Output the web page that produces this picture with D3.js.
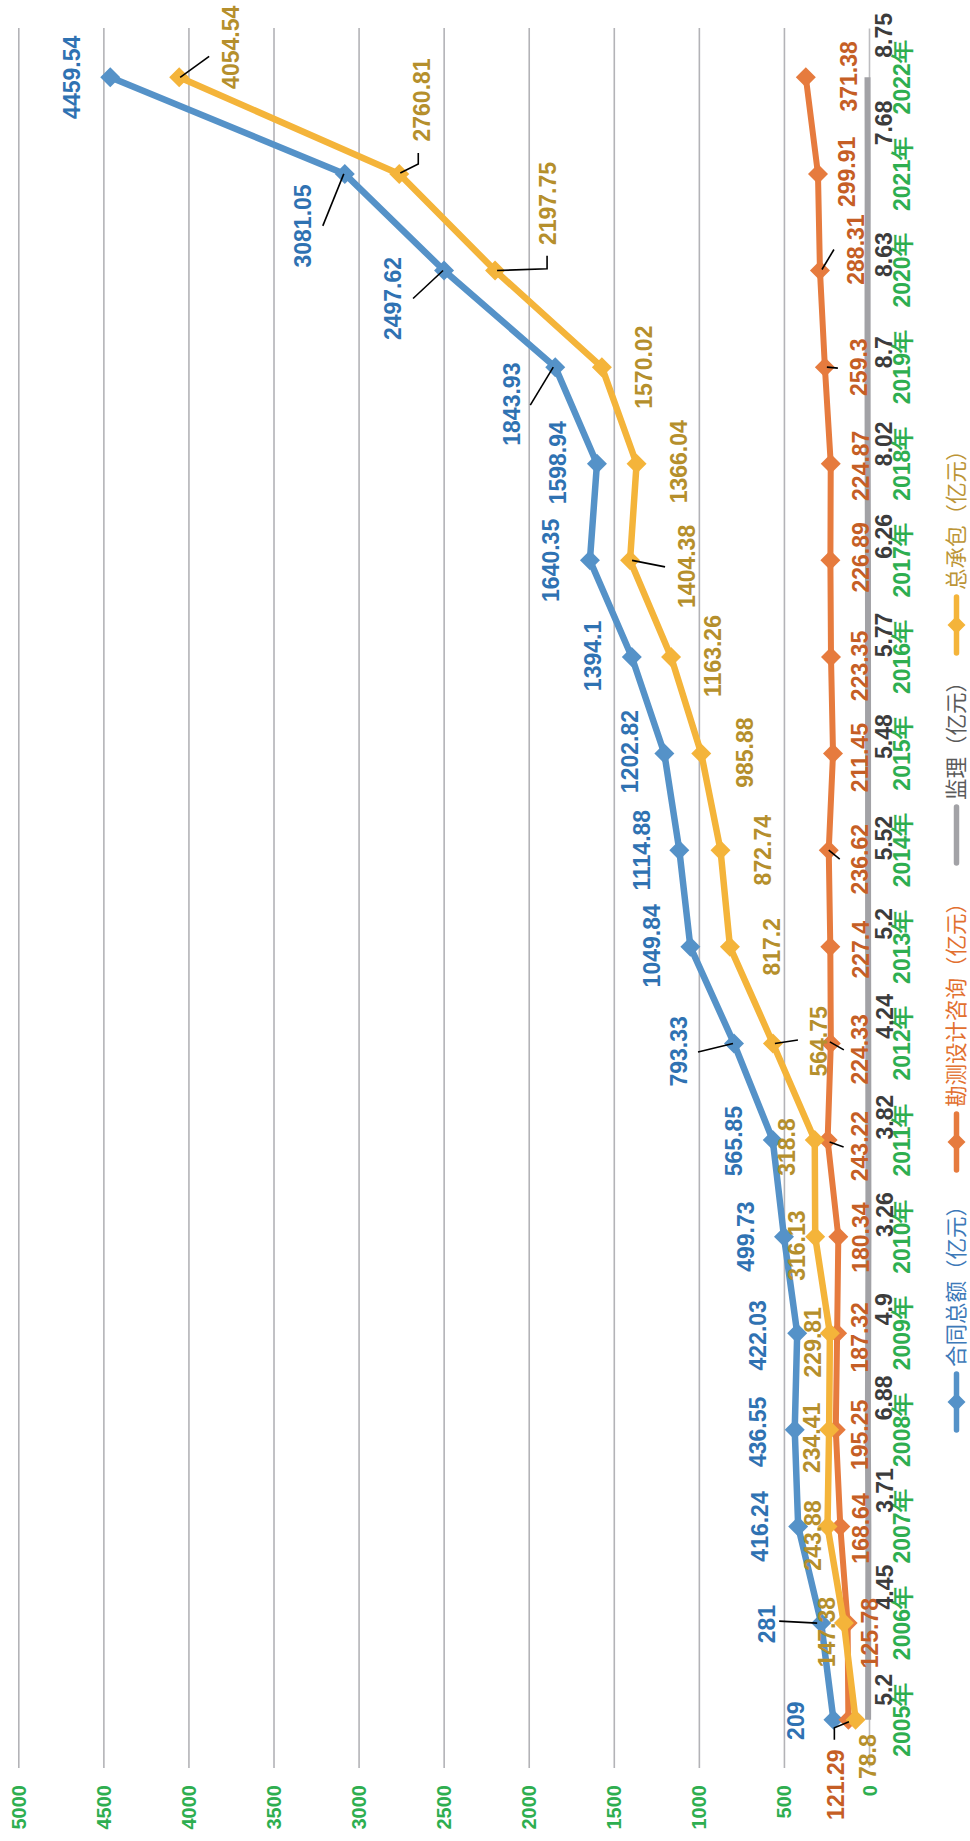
<!DOCTYPE html>
<html>
<head>
<meta charset="utf-8">
<script src="https://cdn.jsdelivr.net/npm/d3@7"></script>
<style>
  html, body { margin: 0; padding: 0; background: #fff; }
  svg { display: block; }
</style>
</head>
<body>
<svg id="chart" width="970" height="1841"></svg>
<script>
// ---------------- DATA ----------------
const years = ["2005年","2006年","2007年","2008年","2009年","2010年","2011年","2012年","2013年","2014年","2015年","2016年","2017年","2018年","2019年","2020年","2021年","2022年"];
const totalContract = [209, 281, 416.24, 436.55, 422.03, 499.73, 565.85, 793.33, 1049.84, 1114.88, 1202.82, 1394.1, 1640.35, 1598.94, 1843.93, 2497.62, 3081.05, 4459.54];
const surveyDesign = [121.29, 125.78, 168.64, 195.25, 187.32, 180.34, 243.22, 224.33, 227.4, 236.62, 211.45, 223.35, 226.89, 224.87, 259.3, 288.31, 299.91, 371.38];
const supervision = [5.2, 4.45, 3.71, 6.88, 4.9, 3.26, 3.82, 4.24, 5.2, 5.52, 5.48, 5.77, 6.26, 8.02, 8.7, 8.63, 7.68, 8.75];
const generalContract = [78.8, 147.38, 243.88, 234.41, 229.81, 316.13, 318.8, 564.75, 817.2, 872.74, 985.88, 1163.26, 1404.38, 1366.04, 1570.02, 2197.75, 2760.81, 4054.54];
const valueTicks = [0, 500, 1000, 1500, 2000, 2500, 3000, 3500, 4000, 4500, 5000];
const seriesNames = ["合同总额（亿元）", "勘测设计咨询（亿元）", "监理（亿元）", "总承包（亿元）"];

// ---------------- LAYOUT (label offsets, in unrotated chart frame) ----------------
const offBlue = [[-1,-38],[-1,-54],[0,-38],[-2,-37],[-2,-39],[0,-38],[-1,-39],[-8,-55],[1,-39],[0,-38],[2,-35],[1,-39],[0,-39],[1,-39],[-37,-44],[-28,-51],[-52,-42],[0,-39]];
const offOrange = [[-65,-13],[-10,22],[-2,20],[-5,24],[-4,23],[-1,22],[-6,32],[-6,29],[-3,30],[-9,31],[-4,27],[-9,29],[3,30],[-2,30],[0,34],[21,36],[2,29],[1,43]];
const offGray = [[30,16],[36,16],[36,16],[32,16],[24,16],[22,16],[23,16],[27,16],[23,16],[12,16],[17,16],[22,16],[24,16],[20,16],[15,16],[16,16],[51,16],[42,16]];
const offYellow = [[-37,12],[-9,-17],[-9,-15],[-8,-17],[-9,-17],[-9,-18],[-7,-28],[2,46],[0,42],[0,42],[1,43],[1,42],[-6,57],[2,42],[0,42],[67,53],[74,22],[30,52]];
// leader lines: [seriesIndex, yearIndex, [[dx,dy],...]]
const leaders = [
  [0,1,[[0,-4],[2,-42]]],
  [0,7,[[0,-1],[-8.5,-36]]],
  [0,14,[[0,-2],[-38,-25]]],
  [0,15,[[0,-1],[-28,-31]]],
  [0,16,[[0,-1],[-52,-22]]],
  [3,7,[[0,2],[3.5,25]]],
  [3,12,[[0,2],[-6.5,35]]],
  [3,15,[[0,2],[1.7,52],[14.7,52]]],
  [3,16,[[1,1],[10,19],[21,19]]],
  [3,17,[[0,1],[21,30]]],
  [1,0,[[-2,0.6],[-8,-14],[-20,-14]]],
  [1,6,[[-2,2],[-7,16]]],
  [1,7,[[1.5,-1],[-6.5,13]]],
  [1,9,[[0,0],[-9,11]]],
  [1,14,[[0,2],[-1,13]]],
  [1,15,[[1,2],[21,14]]]
];

// ---------------- CHART ----------------
const W = 1841, H = 970; // unrotated frame
const svg = d3.select("#chart");
const g = svg.append("g").attr("transform", `translate(0,${W}) rotate(-90)`);

const x = d3.scaleBand().domain(years).range([73, 1812]);
const y = d3.scaleLinear().domain([0, 5000]).range([869, 18.3]);
const cx = d => x(d) + x.bandwidth() / 2;

const colors = ["#5592C8", "#E67B3E", "#A2A2A6", "#F4B43A"];
const labelColors = ["#2F72B2", "#C55E25", "#3C3C3C", "#B58F2C"];
const green = "#2EAE50";
const labelFont = "'Liberation Sans', Arial, sans-serif";

// gridlines
g.append("g")
  .attr("transform", `translate(73,0)`)
  .call(d3.axisLeft(y).tickValues(valueTicks.filter(v => v > 0)).tickSize(-(1812 - 73)).tickFormat(""))
  .call(s => s.select(".domain").remove())
  .call(s => s.selectAll("line").attr("stroke", "#B3B3B7").attr("stroke-width", 1.6).attr("x2", 1812 - 72));

// value axis labels
g.append("g")
  .attr("transform", `translate(73,0)`)
  .call(d3.axisLeft(y).tickValues(valueTicks).tickSize(0).tickPadding(17).tickFormat(d3.format("d")))
  .call(s => s.select(".domain").remove())
  .call(s => s.selectAll("text")
    .attr("fill", green).attr("font-size", 20).attr("font-weight", "bold")
    .attr("font-family", labelFont).attr("dy", "0.35em"));

// category axis
g.append("g")
  .attr("transform", `translate(0,${y(0)})`)
  .call(d3.axisBottom(x).tickSize(0).tickPadding(0))
  .call(s => s.select(".domain").attr("stroke", "#BDBDC0").attr("stroke-width", 1.6))
  .call(s => s.selectAll("text")
    .attr("fill", green).attr("font-size", 23).attr("font-weight", "bold")
    .attr("font-family", labelFont).attr("y", 41).attr("dy", 0));

const allSeries = [totalContract, surveyDesign, supervision, generalContract];
const offsets = [offBlue, offOrange, offGray, offYellow];
const widths = [6.5, 6, 6, 6.5];
const line = d3.line().x((d, i) => cx(years[i])).y(d => y(d));
const diamond = "M0,-10L10,0L0,10L-10,0Z";
const diamondSmall = "M0,-9L9,0L0,9L-9,0Z";

allSeries.forEach((vals, si) => {
  const sg = g.append("g");
  sg.append("path").datum(vals)
    .attr("d", line)
    .attr("fill", "none")
    .attr("stroke", colors[si])
    .attr("stroke-width", widths[si])
    .attr("stroke-linejoin", "round");
  if (si !== 2) {
    sg.selectAll("path.m").data(vals).join("path")
      .attr("class", "m")
      .attr("d", diamond)
      .attr("transform", (d, i) => `translate(${cx(years[i])},${y(d)})`)
      .attr("fill", colors[si]);
  }
});

// leader lines
leaders.forEach(([si, yi, pts]) => {
  const px = cx(years[yi]), py = y(allSeries[si][yi]);
  g.append("polyline")
    .attr("points", pts.map(p => `${px + p[0]},${py + p[1]}`).join(" "))
    .attr("fill", "none").attr("stroke", "#000").attr("stroke-width", 1.6);
});

// data labels
allSeries.forEach((vals, si) => {
  g.append("g").selectAll("text").data(vals).join("text")
    .attr("x", (d, i) => cx(years[i]) + offsets[si][i][0])
    .attr("y", (d, i) => y(d) + offsets[si][i][1])
    .attr("dy", "0.36em")
    .attr("text-anchor", "middle")
    .attr("font-family", labelFont)
    .attr("font-size", 23)
    .attr("font-weight", "bold")
    .attr("fill", labelColors[si])
    .text(d => d);
});

// legend
const legendItems = [
  { name: seriesNames[0], x0: 411, color: colors[0], tcolor: "#3D79B8", marker: true },
  { name: seriesNames[1], x0: 671, color: colors[1], tcolor: "#E2702F", marker: true },
  { name: seriesNames[2], x0: 978, color: colors[2], tcolor: "#5A5A5A", marker: false },
  { name: seriesNames[3], x0: 1188, color: colors[3], tcolor: "#BC9536", marker: true }
];
const ly = 956.5;
const lg = g.append("g");
legendItems.forEach(it => {
  lg.append("line").attr("x1", it.x0).attr("x2", it.x0 + 56).attr("y1", ly).attr("y2", ly)
    .attr("stroke", it.color).attr("stroke-width", 5.5).attr("stroke-linecap", "round");
  if (it.marker) {
    lg.append("path").attr("d", diamondSmall).attr("transform", `translate(${it.x0 + 28},${ly})`).attr("fill", it.color);
  }
  lg.append("text").attr("x", it.x0 + 63).attr("y", ly).attr("dy", "0.34em")
    .attr("font-family", "'Noto Sans CJK SC', sans-serif").attr("font-size", 21.5)
    .attr("fill", it.tcolor).text(it.name);
});
</script>
</body>
</html>
